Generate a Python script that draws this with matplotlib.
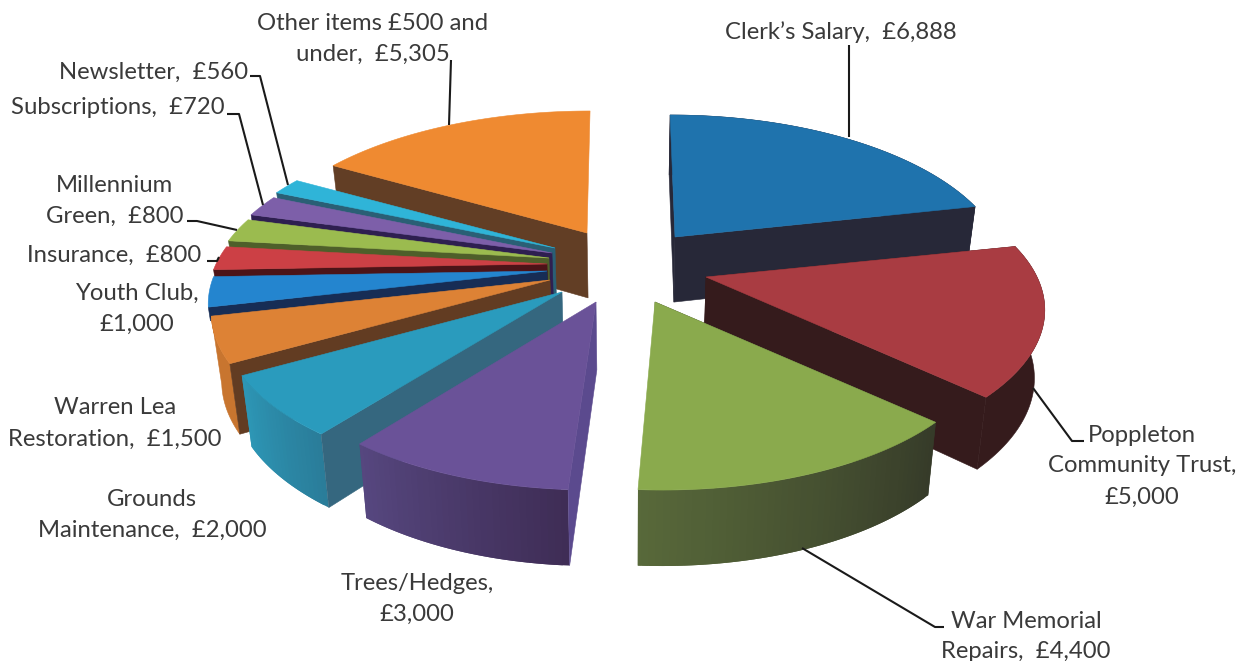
import numpy as np
import matplotlib
matplotlib.use("Agg")
import matplotlib.pyplot as plt
from matplotlib.colors import to_rgb

# ---- chart values ----
CATEGORIES = ["Clerk\u2019s Salary", "Poppleton\nCommunity Trust", "War Memorial\nRepairs", "Trees/Hedges",
              "Grounds\nMaintenance", "Warren Lea\nRestoration", "Youth Club", "Insurance",
              "Millennium\nGreen", "Subscriptions", "Newsletter", "Other items \u00a3500 and\nunder"]
VALUES = [6888, 5000, 4400, 3000, 2000, 1500, 1000, 800, 800, 720, 560, 5305]
VALUE_BREAK = [False, True, False, True, False, False, True, False, False, False, False, False]

# ---- colours: top, cut face, outer side (at start angle, at end angle); None = side not seen ----
TOP = ["#1f73ad", "#a93c42", "#8aaa4d", "#6a5298", "#2a9bbd", "#dd8235",
       "#2485cf", "#cc4045", "#9bbb4f", "#7d5fa9", "#2fb4d8", "#ef8a31"]
CUT = ["#272838", "#351b1c", "#363b29", "#5b4a8e", "#35677f", "#623c22",
       "#172d55", "#4c1418", "#4e5f2a", "#2e1f50", "#2a5f75", "#623e25"]
SIDE_A = ["#272838", "#351b1c", "#363b29", "#3f2d56", "#2a7d9a", "#c8752f",
          None, None, None, None, None, None]
SIDE_B = ["#272838", "#351b1c", "#58693a", "#56477f", "#2d97b6", "#c8752f",
          None, None, None, None, None, None]

# ---- layout, all in picture pixels ----
APEX = [(675, 237), (706, 277), (655, 302), (596, 302), (562, 292), (550, 280),
        (547, 271), (547, 264), (549, 258), (552, 253), (555, 248), (587, 233)]
SHEAR = [0.04, 0.0, 0.04, -0.02, 0.0, 0.0, 0.0, 0.0, 0.0, 0.0, 0.0, -0.025]
SCALE_X = [0.975, 1.0, 0.985, 0.97, 1.0, 1.0, 1.0, 1.0, 1.0, 1.0, 1.0, 0.99]
RX, RY, PERSP = 331, 148, 0.213
DRAW_ORDER = [0, 1, 2, 11, 10, 9, 8, 7, 6, 5, 4, 3]

LABEL_POS = [(841, 32), (1142, 435), (1026, 621), (417, 583), (152, 499), (115, 408),
             (137, 293), (114, 255), (115, 185), (118, 108), (154, 72), (373, 23)]
LINE_STEP = 31
LEADERS = [[(849, 45), (849, 137)],
           [(1033, 388), (1072, 441), (1084, 441)],
           [(802, 548), (935, 627), (944, 627)],
           [(207, 261), (217, 261), (219, 257)],
           [(187, 221), (197, 221), (237, 230)],
           [(227, 114), (239, 114), (263, 205)],
           [(250, 76), (260, 76), (288, 185)],
           [(451, 60), (449, 125)]]
TEXT_COLOR = "#3a3a3a"
LEADER_COLOR = "#1a1a1a"


def outer_point(i, deg):
    ax0, ay0 = APEX[i]
    s, c = np.sin(np.radians(deg)), np.cos(np.radians(deg))
    d = 1 + PERSP * c
    dy = -RY * c / d
    return ax0 + SCALE_X[i] * RX * s / d + SHEAR[i] * dy, ay0 + dy


def lower(pt, frac=1.0):
    # the underside of the pie, drawn a bit smaller towards the vanishing point
    x, y = pt
    return x - frac * 0.025 * (x - 630), y + frac * (65 + 0.043 * (y - 235))


def poly(ax, pts, color, edge=0.4):
    xs, ys = zip(*pts)
    ax.fill(xs, ys, facecolor=color, edgecolor=color if edge else "none", linewidth=edge)


def draw_slice(ax, i, a0, a1):
    apex = APEX[i]
    angles = np.arange(a0, a1, 1.0).tolist() + [a1]
    rim = [outer_point(i, a) for a in angles]

    # small slices only show a thin band of their cut face
    rim_frac = 1.0 if SIDE_A[i] is not None or i == 11 else 0.2
    cut_start = [apex, rim[0], lower(rim[0], rim_frac), lower(apex)]
    cut_end = [apex, rim[-1], lower(rim[-1], rim_frac), lower(apex)]

    if a0 < 180:
        poly(ax, cut_start, CUT[i])

    # outer side, shaded strip by strip where the colour changes
    if SIDE_A[i] is not None:
        if SIDE_A[i] == SIDE_B[i]:
            poly(ax, rim + [lower(p) for p in rim[::-1]], SIDE_A[i])
        else:
            ca, cb = np.array(to_rgb(SIDE_A[i])), np.array(to_rgb(SIDE_B[i]))
            for k in range(len(rim) - 1):
                t = k / max(len(rim) - 2, 1)
                end = min(k + 2, len(rim) - 1)
                part = rim[k:end + 1]
                poly(ax, part + [lower(p) for p in part[::-1]], tuple(ca * (1 - t) + cb * t), edge=0)

    if a0 >= 180:
        poly(ax, cut_start, CUT[i])
    if a1 <= 180:
        poly(ax, cut_end, CUT[i])

    poly(ax, [apex] + rim, TOP[i])


fig = plt.figure(figsize=(12.45, 6.61), dpi=100)
ax = fig.add_axes([0, 0, 1, 1])
ax.set_xlim(0, 1245)
ax.set_ylim(661, 0)
ax.axis("off")

total = sum(VALUES)
edges = np.concatenate([[0], np.cumsum(VALUES) / total * 360])

for i in DRAW_ORDER:
    draw_slice(ax, i, edges[i], edges[i + 1])

for pts in LEADERS:
    xs, ys = zip(*pts)
    ax.plot(xs, ys, color=LEADER_COLOR, linewidth=1.5, solid_capstyle="butt")

for name, val, brk, (x, y) in zip(CATEGORIES, VALUES, VALUE_BREAK, LABEL_POS):
    sep = ",\n" if brk else ",  "
    text = f"{name}{sep}\u00a3{val:,}"
    for n, line in enumerate(text.split("\n")):
        ax.text(x, y + n * LINE_STEP, line, ha="center", va="center", fontsize=17.2,
                family="Lato", color=TEXT_COLOR)

plt.savefig("out.png", dpi=100)
